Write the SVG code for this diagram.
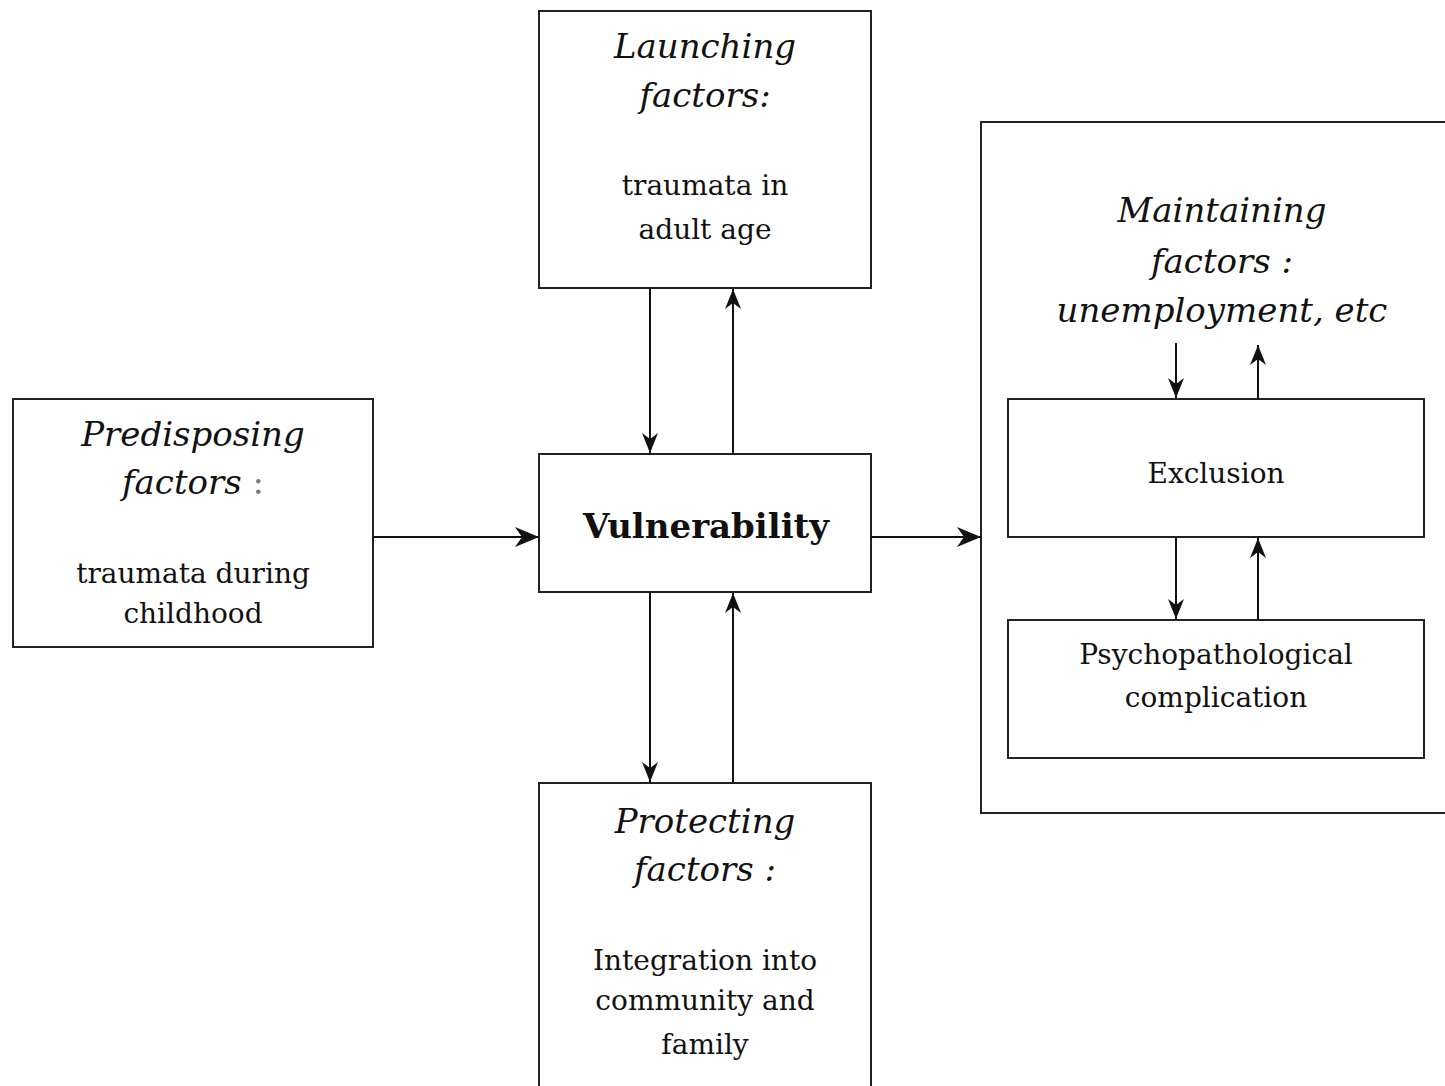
<svg xmlns="http://www.w3.org/2000/svg" width="1445" height="1086" viewBox="0 0 1445 1086">
<style>
.box{fill:#fff;stroke:#222;stroke-width:2}
.it{font-family:"DejaVu Serif","Liberation Serif",serif;font-style:italic;font-size:34px;fill:#111;text-anchor:middle}
.rg{font-family:"DejaVu Serif","Liberation Serif",serif;font-size:28px;fill:#111;text-anchor:middle}
.bd{font-family:"DejaVu Serif","Liberation Serif",serif;font-weight:bold;font-size:34px;fill:#111;text-anchor:middle}
.ln{fill:none;stroke:#111;stroke-width:2}
</style>
<defs>
<marker id="big" markerUnits="userSpaceOnUse" viewBox="0 0 24 20" markerWidth="24" markerHeight="20" refX="24" refY="10" orient="auto">
<path d="M0,0 L24,10 L0,20 L7,10 Z" fill="#111"/>
</marker>
<marker id="sm" markerUnits="userSpaceOnUse" viewBox="0 0 20 16" markerWidth="20" markerHeight="16" refX="20" refY="8" orient="auto">
<path d="M0,0 L20,8 L0,16 L6,8 Z" fill="#111"/>
</marker>
</defs>
<rect width="1445" height="1086" fill="#fff"/>
<g id="outer">
<rect class="box" x="981" y="122" width="480" height="691"/>
<text class="it" x="1222" y="222">Maintaining</text>
<text class="it" x="1222" y="273">factors :</text>
<text class="it" x="1222" y="322">unemployment, etc</text>
</g>
<g id="launching">
<rect class="box" x="539" y="11" width="332" height="277"/>
<text class="it" x="705" y="58">Launching</text>
<text class="it" x="705" y="107">factors:</text>
<text class="rg" x="705" y="195">traumata in</text>
<text class="rg" x="705" y="239">adult age</text>
</g>
<g id="predisposing">
<rect class="box" x="13" y="399" width="360" height="248"/>
<text class="it" x="193" y="446">Predisposing</text>
<text class="it" x="193" y="494">factors <tspan fill="#777" font-style="normal">:</tspan></text>
<text class="rg" x="193" y="583">traumata during</text>
<text class="rg" x="193" y="623">childhood</text>
</g>
<g id="vulnerability">
<rect class="box" x="539" y="454" width="332" height="138"/>
<text class="bd" x="706" y="538">Vulnerability</text>
</g>
<g id="protecting">
<rect class="box" x="539" y="783" width="332" height="320"/>
<text class="it" x="705" y="833">Protecting</text>
<text class="it" x="705" y="881">factors :</text>
<text class="rg" x="705" y="970">Integration into</text>
<text class="rg" x="705" y="1010">community and</text>
<text class="rg" x="705" y="1054">family</text>
</g>
<g id="exclusion">
<rect class="box" x="1008" y="399" width="416" height="138"/>
<text class="rg" x="1216" y="483">Exclusion</text>
</g>
<g id="psycho">
<rect class="box" x="1008" y="620" width="416" height="138"/>
<text class="rg" x="1216" y="664">Psychopathological</text>
<text class="rg" x="1216" y="707">complication</text>
</g>
<g id="connectors">
<line class="ln" x1="373" y1="537" x2="539" y2="537" marker-end="url(#big)"/>
<line class="ln" x1="871" y1="537" x2="981" y2="537" marker-end="url(#big)"/>
<line class="ln" x1="650" y1="288" x2="650" y2="453" marker-end="url(#sm)"/>
<line class="ln" x1="733" y1="454" x2="733" y2="289" marker-end="url(#sm)"/>
<line class="ln" x1="650" y1="592" x2="650" y2="782" marker-end="url(#sm)"/>
<line class="ln" x1="733" y1="783" x2="733" y2="593" marker-end="url(#sm)"/>
<line class="ln" x1="1176" y1="343" x2="1176" y2="398" marker-end="url(#sm)"/>
<line class="ln" x1="1258" y1="399" x2="1258" y2="345" marker-end="url(#sm)"/>
<line class="ln" x1="1176" y1="537" x2="1176" y2="619" marker-end="url(#sm)"/>
<line class="ln" x1="1258" y1="620" x2="1258" y2="538" marker-end="url(#sm)"/>
</g>
</svg>
